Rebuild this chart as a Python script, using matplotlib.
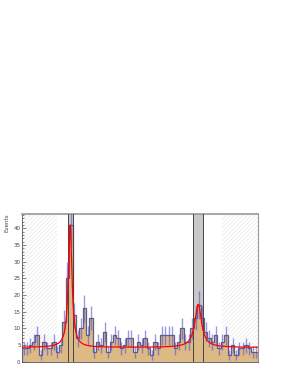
import numpy as np
import matplotlib
matplotlib.use("Agg")
import matplotlib.pyplot as plt
from matplotlib.patches import Rectangle

# Histogram contents (70 bins)
counts = [4, 4, 5, 6, 8, 2, 6, 4, 4, 6,
          3, 5, 12, 25, 41, 14, 7, 10, 16, 8,
          13, 3, 6, 5, 9, 3, 6, 8, 7, 4,
          5, 7, 7, 3, 6, 5, 7, 4, 2, 6,
          4, 8, 8, 8, 8, 4, 6, 10, 6, 6,
          10, 13, 17, 13, 9, 7, 6, 8, 4, 6,
          8, 2, 5, 2, 4, 4, 5, 4, 3, 3]
edges = np.arange(len(counts) + 1)

# Fit parameters: flat background + two Breit-Wigner peaks
bkg = 4.3
peak_centers = [14.3, 52.3]
peak_amps = [36.7, 12.9]
peak_gammas = [0.65, 1.2]

# Signal windows and sideband regions
signal_windows = [(13.6, 15.1), (50.8, 53.8)]
sidebands = [(0, 10.3), (59.3, 70)]

plt.rcParams["hatch.linewidth"] = 0.4

fig = plt.figure(figsize=(2.93, 3.80), dpi=100)
ax = fig.add_axes([0.075, 0.048, 0.805, 0.389])

counts = np.array(counts, dtype=float)
centers = 0.5 * (edges[:-1] + edges[1:])

# sideband hatching
for lo, hi in sidebands:
    ax.add_patch(Rectangle((lo, 0), hi - lo, 50, facecolor="none",
                           edgecolor="#e2e2e2", hatch="////////", linewidth=0, zorder=0))

# signal windows
for lo, hi in signal_windows:
    ax.axvspan(lo, hi, color="#c8c8c8", zorder=1, lw=0)

# histogram
ax.stairs(counts, edges, fill=True, color="#ddb985", zorder=2)
ax.stairs(counts, edges, color="#5c5c8a", lw=0.9, zorder=3)

for lo, hi in signal_windows:
    ax.axvline(lo, color="#444444", lw=0.7, zorder=4)
    ax.axvline(hi, color="#444444", lw=0.7, zorder=4)

# error bars
ax.errorbar(centers, counts, yerr=np.sqrt(counts), fmt="none",
            ecolor="#5555cc", elinewidth=1.0, alpha=0.6, zorder=5)

# fit curve
xs = np.linspace(0, 70, 1400)
fit = np.full_like(xs, bkg)
for c, a, g in zip(peak_centers, peak_amps, peak_gammas):
    fit += a / (1 + ((xs - c) / g) ** 2)
ax.plot(xs, fit, color="red", lw=0.9, zorder=6)

ax.set_xlim(0, 70)
ax.set_ylim(0, 44.3)
ax.set_yticks(np.arange(0, 45, 5))
ax.set_yticks(np.arange(0, 45, 1), minor=True)
ax.set_xticks(np.arange(0, 71, 10))
ax.set_xticks(np.arange(0, 71, 2), minor=True)
ax.tick_params(axis="both", which="both", direction="in", labelsize=4, pad=1,
               color="#555555", labelcolor="#444444")
ax.tick_params(axis="both", which="major", length=3, width=0.5)
ax.tick_params(axis="both", which="minor", length=1.5, width=0.5)
ax.tick_params(axis="x", labelbottom=False)
for side in ["top", "right"]:
    ax.spines[side].set_color("#999999")
ax.spines["top"].set_linewidth(1.2)
for side in ["left", "bottom"]:
    ax.spines[side].set_color("#555555")
    ax.spines[side].set_linewidth(0.6)

ax.set_ylabel("Events", fontsize=4, loc="top", labelpad=3, color="#444444")

fig.savefig("out.png", dpi=100)
